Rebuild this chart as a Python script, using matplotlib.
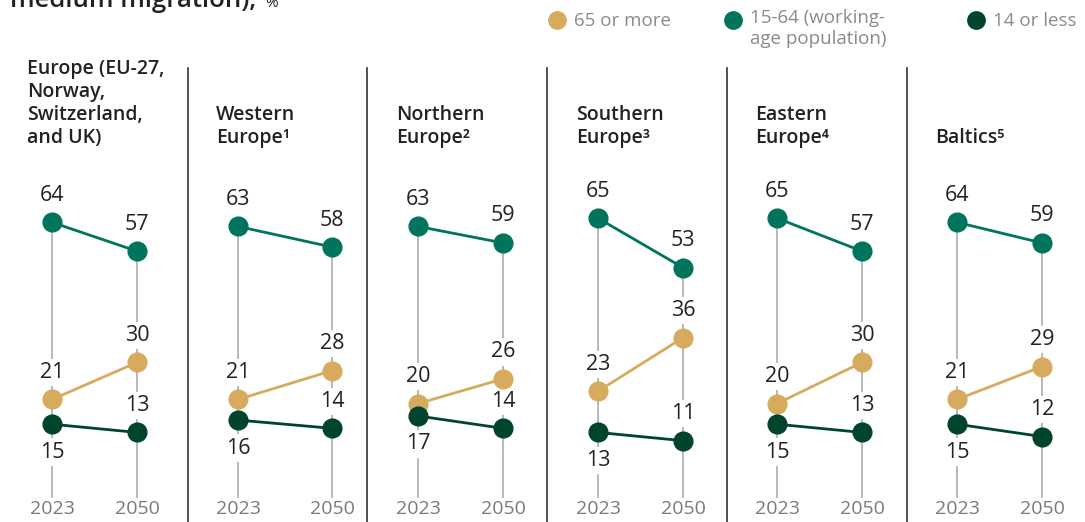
import numpy as np
import matplotlib.pyplot as plt

plt.rcParams['font.family'] = ['Open Sans', 'DejaVu Sans']

# share of population by age group, 2023 vs 2050
regions = ["Europe (EU-27,\nNorway,\nSwitzerland,\nand UK)",
           "Western\nEurope\u00b9", "Northern\nEurope\u00b2",
           "Southern\nEurope\u00b3", "Eastern\nEurope\u2074", "Baltics\u2075"]
years = ["2023", "2050"]
age_65_plus = [[21, 30], [21, 28], [20, 26], [23, 36], [20, 30], [21, 29]]
age_15_64 = [[64, 57], [63, 58], [63, 59], [65, 53], [65, 57], [64, 59]]
age_14_less = [[15, 13], [16, 14], [17, 14], [13, 11], [15, 13], [15, 12]]

series_names = ["65 or more", "15-64 (working-\nage population)", "14 or less"]
series_colors = ["#D6AB5D", "#00745C", "#00432F"]

W, H = 1085, 522
fig = plt.figure(figsize=(W / 100, H / 100), dpi=100)

# pixel helpers
def fx(px):
    return px / W

def fy(py):
    return 1 - py / H

zero_px = 486
px_per_unit = 4.12
ymax = 70
panel_left = [52, 238, 418, 598, 777, 957]
panel_right = [137, 332, 503, 683, 862, 1042]

# cut-off heading line at the very top
fig.text(fx(10), fy(7), "medium migration),", fontsize=18.5, fontweight='semibold',
         color='#222222', va='baseline')
fig.text(fx(265), fy(7), "%", fontsize=11, color='#222222', va='baseline')

# legend
legend_x = [557, 733, 976]
for lx, name, c in zip(legend_x, series_names, series_colors):
    fig.add_artist(plt.Line2D([fx(lx)], [fy(20)], marker='o', markersize=12.5,
                              color=c, linestyle='none'))
    if '\n' in name:
        fig.text(fx(lx + 17), fy(9), name, fontsize=13.5, color='#8a8a8a',
                 va='top', linespacing=1.25)
    else:
        fig.text(fx(lx + 17), fy(21), name, fontsize=13.5, color='#8a8a8a',
                 va='center')

# panel separators
for sx in [188, 367, 547, 727, 907]:
    fig.add_artist(plt.Line2D([fx(sx), fx(sx)], [fy(68), fy(522)],
                              color='#333333', linewidth=1.2))

for i, region in enumerate(regions):
    ax = fig.add_axes([fx(panel_left[i]), fy(zero_px),
                       fx(panel_right[i] - panel_left[i]),
                       ymax * px_per_unit / H])
    ax.set_xlim(0, 1)
    ax.set_ylim(0, ymax)
    ax.axis('off')

    groups = [age_65_plus[i], age_15_64[i], age_14_less[i]]
    xs = np.arange(len(years))

    # gray guide lines under each year
    for j in xs:
        top = max(g[j] for g in groups)
        ax.plot([j, j], [-2.7, top], color='#b3b3b3', linewidth=1.3,
                zorder=1, clip_on=False)
        ax.text(j, -5.7, years[j], ha='center', va='center', fontsize=14,
                color='#7a7a7a')

    for k, (vals, c) in enumerate(zip(groups, series_colors)):
        ax.plot(xs, vals, color=c, linewidth=2, marker='o', markersize=13.5,
                zorder=4, clip_on=False)
        for j, v in enumerate(vals):
            below = (k == 2 and j == 0)
            off = -28 if below else 27
            ax.annotate(str(v), (j, v), xytext=(0, off),
                        textcoords='offset pixels', ha='center', va='center',
                        fontsize=15.5, color='#222222', zorder=3,
                        bbox=dict(boxstyle='square,pad=0.15', fc='white',
                                  ec='none'))

    # panel title, bottom aligned
    tx = 27 if i == 0 else panel_left[i] - 22
    fig.text(fx(tx), fy(143), region, fontsize=14, fontweight='semibold',
             color='#222222', va='baseline', linespacing=1.2)

fig.savefig('out.png', dpi=100)
